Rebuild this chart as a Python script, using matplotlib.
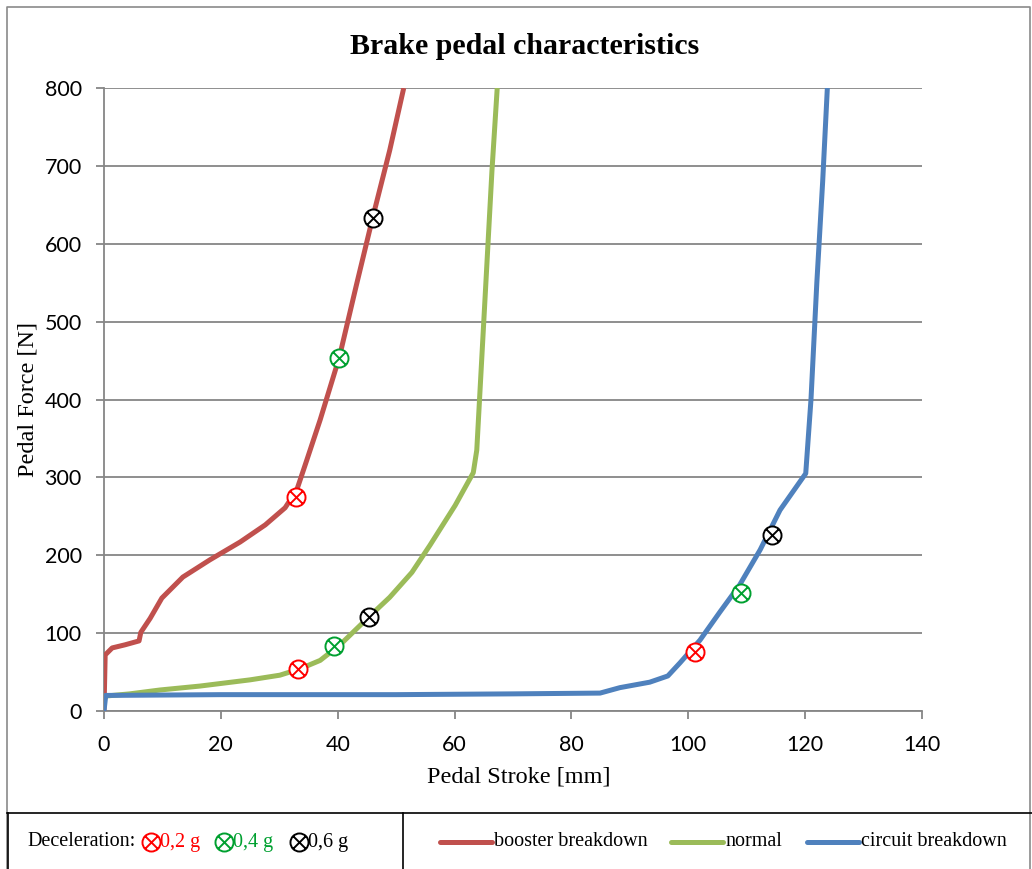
import numpy as np
import matplotlib
matplotlib.use("Agg")
import matplotlib.pyplot as plt
from matplotlib.path import Path
from matplotlib.lines import Line2D

# booster breakdown curve (stroke mm, force N)
booster_x = [0.0, 0.2, 1.4, 3.6, 6.0, 6.3, 7.9, 9.9, 13.5, 18.1, 23.3, 27.6, 31.0, 33.0,
             34.7, 37.0, 40.3, 43.2, 46.0, 48.9, 51.3]
booster_y = [0, 72, 81, 85, 90, 101, 119, 145, 172, 194, 217, 239, 261, 284,
             322, 374, 455, 547, 634, 720, 800]

# normal curve
normal_x = [0.0, 4.4, 9.6, 16.4, 25.0, 30.1, 33.5, 37.0, 40.4, 45.5, 48.9, 52.7, 55.8,
            60.1, 63.2, 63.8, 65.2, 66.4, 67.3]
normal_y = [19, 22, 27, 32, 40, 46, 54, 65, 85, 122, 146, 178, 213,
            264, 306, 335, 528, 694, 800]

# circuit breakdown curve
circuit_x = [0.0, 0.3, 20.0, 50.0, 70.0, 84.9, 88.3, 93.4, 96.5, 98.6, 102.0, 105.4,
             108.8, 112.3, 115.7, 120.1, 121.0, 122.0, 123.0, 123.8]
circuit_y = [0, 20, 21, 21, 22, 23, 30, 37, 45, 62, 91, 127,
             162, 207, 258, 305, 400, 550, 680, 800]

# deceleration markers: 0.2 g, 0.4 g, 0.6 g on each curve
decel_labels = ["0,2 g", "0,4 g", "0,6 g"]
decel_colors = ["#FF0000", "#00A030", "#000000"]
mark_booster = [(32.9, 275), (40.2, 453), (46.0, 633)]
mark_normal = [(33.2, 54), (39.4, 83), (45.4, 121)]
mark_circuit = [(101.1, 76), (109.0, 151), (114.3, 226)]

series_names = ["booster breakdown", "normal", "circuit breakdown"]
series_colors = ["#C0504D", "#9BBB59", "#4F81BD"]

W, H = 1032, 869

# circle with a cross inside
circ = Path.unit_circle()
d = np.sqrt(0.5)
cross = Path([(-d, -d), (d, d), (-d, d), (d, -d)],
             [Path.MOVETO, Path.LINETO, Path.MOVETO, Path.LINETO])
otimes = Path.make_compound_path(circ, cross)


def fx(px):
    return px / W


def fy(py):
    return 1 - py / H


def main():
    fig = plt.figure(figsize=(W / 100, H / 100), dpi=100)
    ax = fig.add_axes([fx(104), fy(711), fx(922) - fx(104), fy(88) - fy(711)])

    tick_font = "Lato"
    serif = "Liberation Serif"
    grid_c = "#868686"

    curves = [(booster_x, booster_y), (normal_x, normal_y), (circuit_x, circuit_y)]
    for (xs, ys), c in zip(curves, series_colors):
        ax.plot(xs, ys, color=c, lw=3.6, solid_capstyle="butt", solid_joinstyle="round",
                zorder=3)

    for marks in [mark_booster, mark_normal, mark_circuit]:
        for (mx, my), mc in zip(marks, decel_colors):
            ax.plot([mx], [my], marker=otimes, ms=13, mfc="white", mec=mc, mew=1.4,
                    ls="", zorder=4)

    ax.set_xlim(0, 140)
    ax.set_ylim(0, 800)
    ax.set_xticks(np.arange(0, 141, 20))
    ax.set_yticks(np.arange(0, 801, 100))
    ax.yaxis.grid(True, color=grid_c, lw=1.3)
    ax.set_axisbelow(True)
    for s in ["top", "right"]:
        ax.spines[s].set_visible(False)
    for s in ["left", "bottom"]:
        ax.spines[s].set_color(grid_c)
        ax.spines[s].set_linewidth(1.3)
    ax.tick_params(axis="both", color=grid_c, width=1.3, length=6, labelsize=15.5)
    ax.tick_params(axis="x", pad=11)
    ax.tick_params(axis="y", pad=10)
    for lab in ax.get_xticklabels() + ax.get_yticklabels():
        lab.set_fontfamily(tick_font)

    ax.set_xlabel("Pedal Stroke [mm]", fontfamily=serif, fontsize=17.5)
    ax.set_ylabel("Pedal Force [N]", fontfamily=serif, fontsize=17.5)
    ax.xaxis.set_label_coords((fx(519) - fx(104)) / (fx(922) - fx(104)),
                              (fy(777) - fy(711)) / (fy(88) - fy(711)))
    ax.yaxis.set_label_coords((fx(28) - fx(104)) / (fx(922) - fx(104)),
                              (fy(399) - fy(711)) / (fy(88) - fy(711)))
    ax.xaxis.label.set_va("center")
    ax.yaxis.label.set_va("center")

    fig.text(fx(525), fy(46), "Brake pedal characteristics", fontfamily=serif,
             fontweight="bold", fontsize=21.5, ha="center", va="center")

    # outer frame and legend table
    fig.add_artist(Line2D([fx(7), fx(7), fx(1030), fx(1030)], [fy(869), fy(7), fy(7), fy(869)],
                          color="#8a8a8a", lw=1.2))
    fig.add_artist(Line2D([fx(7), fx(1032)], [fy(813), fy(813)], color="black", lw=1.2))
    fig.add_artist(Line2D([fx(403), fx(403)], [fy(813), fy(869)], color="black", lw=1.2))
    fig.add_artist(Line2D([fx(8), fx(8)], [fy(813), fy(869)], color="black", lw=1.2))

    ly = fy(842)
    fig.text(fx(27), ly, "Deceleration:", fontfamily=serif, fontsize=14.5, va="center")
    for lab, c, mxp in zip(decel_labels, decel_colors, [151, 224, 299]):
        fig.add_artist(Line2D([fx(mxp)], [ly], marker=otimes, ms=13, mfc="none", mec=c,
                              mew=1.4, ls=""))
        fig.text(fx(mxp + 9), ly, lab, fontfamily=serif, fontsize=14.5, va="center", color=c)

    for name, c, x0 in zip(series_names, series_colors, [440, 671, 807]):
        fig.add_artist(Line2D([fx(x0), fx(x0 + 52)], [ly, ly], color=c, lw=3.6,
                              solid_capstyle="round"))
        fig.text(fx(x0 + 54), ly, name, fontfamily=serif, fontsize=14.5, va="center")

    fig.savefig("out.png", dpi=100)


if __name__ == "__main__":
    main()
